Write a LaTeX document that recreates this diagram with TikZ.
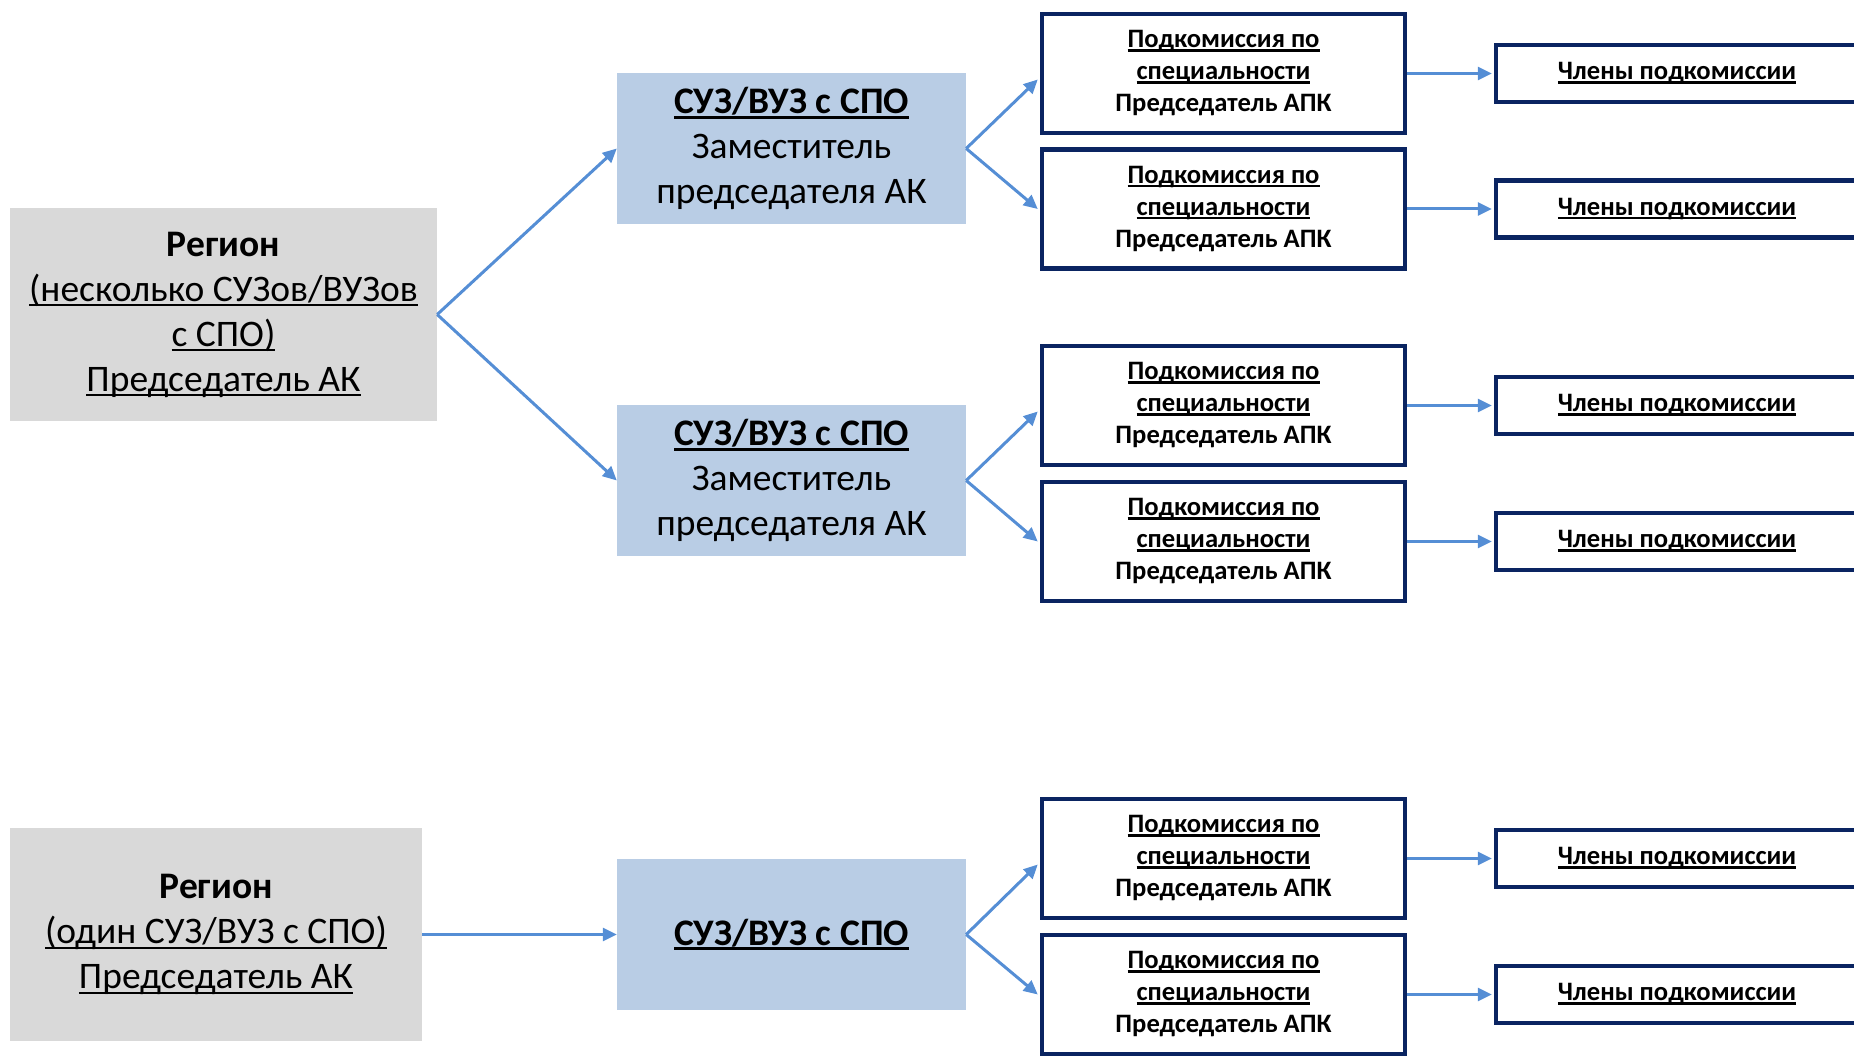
\documentclass[tikz,border=0pt]{standalone}
\usepackage{fontspec}
\setmainfont{Carlito}
\usetikzlibrary{arrows.meta,calc}
\definecolor{graybox}{HTML}{D9D9D9}
\definecolor{bluebox}{HTML}{B9CDE5}
\definecolor{navy}{HTML}{0A2461}
\definecolor{arrowblue}{HTML}{558ED5}
\newcommand{\uln}[2][2.4]{\leavevmode\setbox0\hbox{#2}\rlap{\rule[-0.14em]{\wd0}{#1pt}}\box0}
\tikzset{
  regionbox/.style={fill=graybox, draw=none, inner sep=0pt, minimum width=427pt, minimum height=213pt, align=center, font=\fontsize{37.5}{45}\selectfont},
  suzbox/.style={fill=bluebox, draw=none, inner sep=0pt, minimum width=349pt, minimum height=151pt, align=center, font=\fontsize{37.5}{45}\selectfont},
  podbox/.style={draw=navy, line width=4.5pt, fill=white, inner sep=0pt, minimum width=363pt, minimum height=119pt, align=center, font=\fontsize{26.6}{32}\selectfont\bfseries},
  membox/.style={draw=navy, line width=4.5pt, fill=white, inner sep=0pt, minimum width=404pt, minimum height=57pt, align=center, font=\fontsize{26.6}{32}\selectfont\bfseries},
  conn/.style={draw=arrowblue, line width=3pt, -{Triangle[length=14pt,width=13pt]}}
}
\newcommand{\podtext}{\uln{Подкомиссия по}\\\uln{специальности}\\Председатель АПК}
\newcommand{\memtext}{\hspace*{-42pt}\uln{Члены подкомиссии}}
\begin{document}
\begin{tikzpicture}[x=1pt,y=-1pt]
\useasboundingbox (0,0) rectangle (1854,1056);
\clip (0,0) rectangle (1854,1056);
% top section
\node[regionbox] (r1) at (223.5,314.5) {\textbf{Регион}\\\uln[2.2]{(несколько СУЗов/ВУЗов}\\\uln[2.2]{с СПО)}\\\uln[2.2]{Председатель АК}};
\node[suzbox] (s1) at (791.5,148.5) {\uln[3]{\textbf{СУЗ/ВУЗ с СПО}}\\Заместитель\\председателя АК};
\node[suzbox] (s2) at (791.5,480.5) {\uln[3]{\textbf{СУЗ/ВУЗ с СПО}}\\Заместитель\\председателя АК};
\node[podbox] (p1) at (1223.5,73.5) {\podtext};
\node[podbox] (p2) at (1223.5,209) {\podtext};
\node[podbox] (p3) at (1223.5,405.5) {\podtext};
\node[podbox] (p4) at (1223.5,541.5) {\podtext};
\node[membox] (m1) at (1698,73.5) {\memtext};
\node[membox] (m2) at (1698,209) {\memtext};
\node[membox] (m3) at (1698,405.5) {\memtext};
\node[membox] (m4) at (1698,541.5) {\memtext};
% bottom section
\node[regionbox, minimum width=412pt] (r2) at (216,934.5) {\textbf{Регион}\\\uln[2.2]{(один СУЗ/ВУЗ с СПО)}\\\uln[2.2]{Председатель АК}};
\node[suzbox] (s3) at (791.5,934.5) {\uln[3]{\textbf{СУЗ/ВУЗ с СПО}}};
\node[podbox] (p5) at (1223.5,858.5) {\podtext};
\node[podbox] (p6) at (1223.5,994.5) {\podtext};
\node[membox] (m5) at (1698,858.5) {\memtext};
\node[membox] (m6) at (1698,994.5) {\memtext};
% connectors
\draw[conn] (r1.east) -- (s1.west);
\draw[conn] (r1.east) -- (s2.west);
\draw[conn] (r2.east) -- (s3.west);
\foreach \s/\a/\b in {s1/p1/p2, s2/p3/p4, s3/p5/p6}{
  \draw[conn] (\s.east) -- ($(\a.west)+(-2,6)$);
  \draw[conn] (\s.east) -- ($(\b.west)+(-2,0)$);
}
\foreach \a/\b in {p1/m1,p2/m2,p3/m3,p4/m4,p5/m5,p6/m6}{
  \draw[conn] (\a.east) -- ($(\b.west)+(-2,0)$);
}
\end{tikzpicture}
\end{document}
